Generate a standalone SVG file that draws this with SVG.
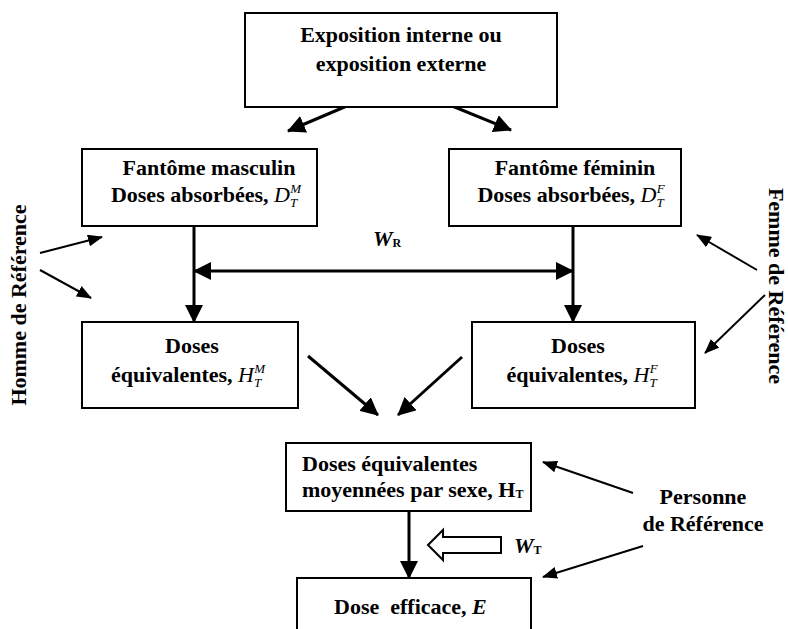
<svg xmlns="http://www.w3.org/2000/svg" width="788" height="629" viewBox="0 0 788 629">
<style>
text{font-family:"Liberation Serif","Times New Roman",serif;font-weight:bold;font-size:22px;fill:#000}
.m{font-style:italic;font-weight:normal}
.box{fill:#fff;stroke:#000;stroke-width:2}
.thick{stroke:#000;stroke-width:3;fill:none}
.thin{stroke:#000;stroke-width:2;fill:none}
</style>
<defs>
<marker id="ah" viewBox="0 0 18 18" refX="17" refY="9" markerWidth="18" markerHeight="18" markerUnits="userSpaceOnUse" orient="auto-start-reverse"><path d="M0,0 L18,9 L0,18 z" fill="#000"/></marker>
<marker id="aht" viewBox="0 0 15 12" refX="14" refY="6" markerWidth="15" markerHeight="12" markerUnits="userSpaceOnUse" orient="auto"><path d="M0,0 L15,6 L0,12 z" fill="#000"/></marker>
</defs>
<rect width="788" height="629" fill="#fff"/>

<g id="connectors">
<line class="thick" x1="368" y1="97" x2="288" y2="131" marker-end="url(#ah)"/>
<line class="thick" x1="430" y1="97" x2="511" y2="130" marker-end="url(#ah)"/>
<line class="thick" x1="194" y1="226" x2="194" y2="322" marker-end="url(#ah)"/>
<line class="thick" x1="573" y1="226" x2="573" y2="322" marker-end="url(#ah)"/>
<line class="thick" x1="194" y1="271" x2="573" y2="271" marker-start="url(#ah)" marker-end="url(#ah)"/>
<line class="thick" x1="308" y1="356" x2="378" y2="415" marker-end="url(#ah)"/>
<line class="thick" x1="462" y1="357" x2="398" y2="415" marker-end="url(#ah)"/>
<line class="thick" x1="409" y1="511" x2="409" y2="578" marker-end="url(#ah)"/>
<line class="thin" x1="40" y1="253" x2="102" y2="237" marker-end="url(#aht)"/>
<line class="thin" x1="40" y1="270" x2="91" y2="298" marker-end="url(#aht)"/>
<line class="thin" x1="757" y1="270" x2="697" y2="235" marker-end="url(#aht)"/>
<line class="thin" x1="765" y1="295" x2="705" y2="353" marker-end="url(#aht)"/>
<line class="thin" x1="633" y1="493" x2="543" y2="462" marker-end="url(#aht)"/>
<line class="thin" x1="643" y1="546" x2="543" y2="577" marker-end="url(#aht)"/>
<polygon points="428,545 443,530 443,537 501,537 501,553 443,553 443,560" fill="#fff" stroke="#000" stroke-width="2"/>
<text x="373" y="246" font-size="19" font-style="italic">W<tspan font-size="12" font-style="normal" dy="1">R</tspan></text>
<text x="514" y="553" font-size="19" font-style="italic">W<tspan font-size="12" font-style="normal" dy="1">T</tspan></text>
</g>

<g id="exposition">
<rect class="box" x="245" y="13" width="312" height="94"/>
<text x="401" y="42" text-anchor="middle">Exposition interne ou</text>
<text x="401" y="71" text-anchor="middle">exposition externe</text>
</g>

<g id="fantome-masculin">
<rect class="box" x="82" y="149" width="235" height="77"/>
<text x="209" y="175" text-anchor="middle">Fantôme masculin</text>
<text x="206" y="202" text-anchor="middle">Doses absorbées, <tspan class="m">D</tspan><tspan class="m" font-size="13" dy="5">T</tspan><tspan class="m" font-size="13" dx="-7" dy="-14">M</tspan></text>
</g>

<g id="fantome-feminin">
<rect class="box" x="449" y="149" width="232" height="77"/>
<text x="575" y="175" text-anchor="middle">Fantôme féminin</text>
<text x="571" y="202" text-anchor="middle">Doses absorbées, <tspan class="m">D</tspan><tspan class="m" font-size="13" dy="5">T</tspan><tspan class="m" font-size="13" dx="-7" dy="-14">F</tspan></text>
</g>

<g id="equiv-masculin">
<rect class="box" x="82" y="322" width="216" height="86"/>
<text x="192" y="353" text-anchor="middle">Doses</text>
<text x="188" y="382" text-anchor="middle">équivalentes, <tspan class="m">H</tspan><tspan class="m" font-size="13" dy="5">T</tspan><tspan class="m" font-size="13" dx="-7" dy="-14">M</tspan></text>
</g>

<g id="equiv-feminin">
<rect class="box" x="472" y="322" width="223" height="86"/>
<text x="578" y="353" text-anchor="middle">Doses</text>
<text x="582" y="382" text-anchor="middle">équivalentes, <tspan class="m">H</tspan><tspan class="m" font-size="13" dy="5">T</tspan><tspan class="m" font-size="13" dx="-7" dy="-14">F</tspan></text>
</g>

<g id="moyenne">
<rect class="box" x="286" y="443" width="245" height="68"/>
<text x="302" y="471">Doses équivalentes</text>
<text x="302" y="497" font-size="19">moyennées par sexe, H<tspan font-size="12" dy="1">T</tspan></text>
</g>

<g id="dose-efficace">
<rect class="box" x="297" y="578" width="234" height="60"/>
<text x="334" y="614" xml:space="preserve">Dose  efficace, <tspan font-style="italic">E</tspan></text>
</g>

<g id="homme">
<text transform="translate(26,305) rotate(-90)" text-anchor="middle">Homme de Référence</text>
</g>
<g id="femme">
<text transform="translate(769,286) rotate(90)" text-anchor="middle" font-size="21">Femme de Référence</text>
</g>
<g id="personne">
<text x="703" y="504" text-anchor="middle">Personne</text>
<text x="703" y="531" text-anchor="middle">de Référence</text>
</g>
</svg>
